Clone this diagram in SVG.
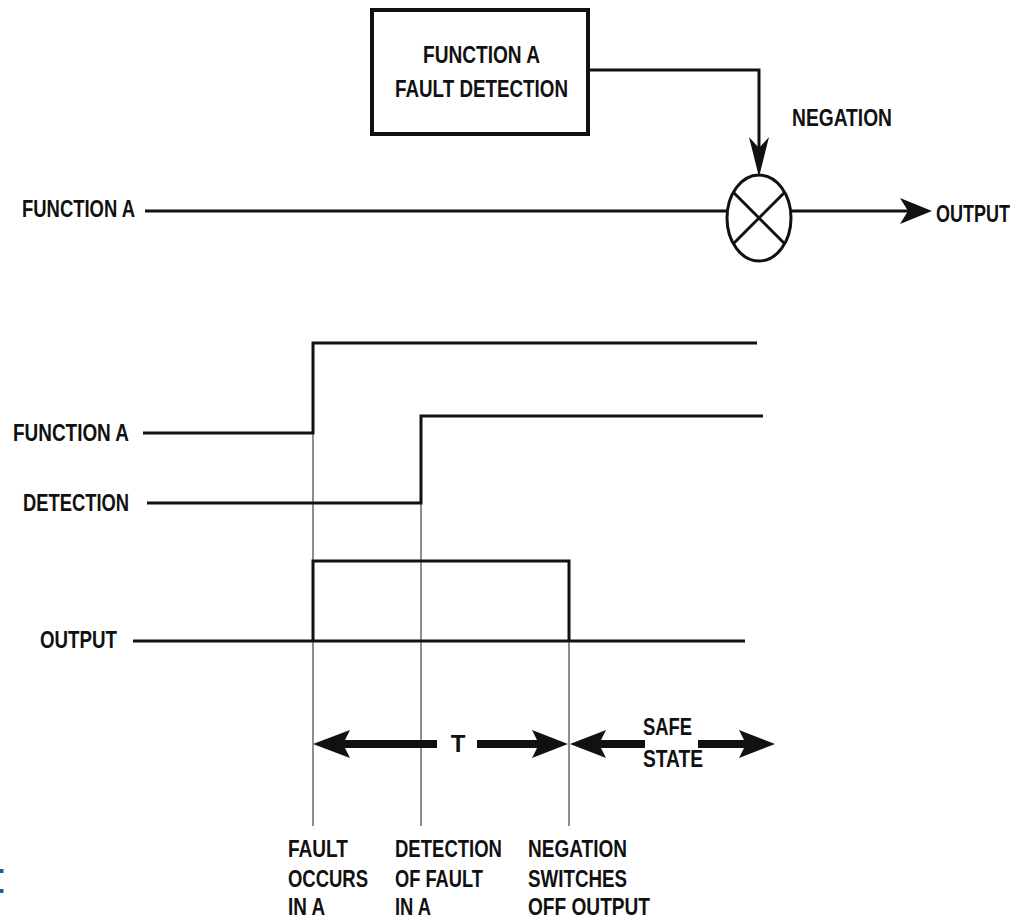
<svg xmlns="http://www.w3.org/2000/svg" width="1016" height="923" viewBox="0 0 1016 923">
<style>
  text { font-family: "Liberation Sans", Arial, sans-serif; font-weight: bold; font-size: 24px; fill: #111; }
  .ln { fill: none; stroke: #111; stroke-width: 3; stroke-linejoin: miter; }
  .thin { fill: none; stroke: #444; stroke-width: 1.2; }
  .head { fill: #111; stroke: none; }
</style>
<rect width="1016" height="923" fill="#fff"/>

<g id="fault-detection">
  <rect x="372" y="10" width="216" height="124" fill="#fff" stroke="#111" stroke-width="4"/>
  <text x="423" y="63" textLength="117" lengthAdjust="spacingAndGlyphs">FUNCTION A</text>
  <text x="395" y="97" textLength="173" lengthAdjust="spacingAndGlyphs">FAULT DETECTION</text>
</g>

<g id="negation-node">
  <ellipse cx="759" cy="218" rx="32" ry="43" fill="#fff" stroke="#111" stroke-width="3"/>
  <path class="ln" d="M733.3 192.3 L784.7 243.7 M784.7 192.3 L733.3 243.7"/>
</g>

<g id="labels-top">
  <text x="22" y="217" textLength="113" lengthAdjust="spacingAndGlyphs">FUNCTION A</text>
  <text x="792" y="126" textLength="100" lengthAdjust="spacingAndGlyphs">NEGATION</text>
  <text transform="translate(936,222) scale(0.75,1)" x="0" y="0">OUTPUT</text>
</g>

<g id="connectors">
  <path class="ln" d="M588 70 H759 V150"/>
  <polygon class="head" points="749,137 759,148 769,137 759,177"/>
  <path class="ln" d="M145 211 H727"/>
  <path class="ln" d="M791 211 H910"/>
  <polygon class="head" points="900,198 908,211 900,224 932,211"/>
</g>

<g id="timing-labels">
  <text x="13" y="441" textLength="116" lengthAdjust="spacingAndGlyphs">FUNCTION A</text>
  <text x="23" y="511" textLength="106" lengthAdjust="spacingAndGlyphs">DETECTION</text>
  <text x="40" y="648" textLength="77" lengthAdjust="spacingAndGlyphs">OUTPUT</text>
</g>

<g id="timing-markers">
  <path class="thin" d="M313 433 V826 M421 503 V826 M569 641 V826"/>
</g>

<g id="waveforms">
  <path class="ln" d="M143 433 H313 V343 H757"/>
  <path class="ln" d="M147 503 H421 V416 H763"/>
  <path class="ln" d="M133 641 H745"/>
  <path class="ln" d="M313 641 V561 H569 V641"/>
</g>

<g id="interval-arrows">
  <rect class="head" x="340" y="740" width="97" height="8"/>
  <polygon class="head" points="313,744 350,730 343,744 350,758"/>
  <text x="458" y="752" text-anchor="middle">T</text>
  <rect class="head" x="477" y="740" width="65" height="8"/>
  <polygon class="head" points="568,744 532,730 539,744 532,758"/>
  <rect class="head" x="597" y="740" width="48" height="8"/>
  <polygon class="head" points="570,744 606,730 599,744 606,758"/>
  <text x="643" y="735" textLength="49" lengthAdjust="spacingAndGlyphs">SAFE</text>
  <text x="643" y="767" textLength="60" lengthAdjust="spacingAndGlyphs">STATE</text>
  <rect class="head" x="698" y="740" width="48" height="8"/>
  <polygon class="head" points="775,744 739,730 746,744 739,758"/>
</g>

<g id="event-labels">
  <text x="288" y="857" textLength="60" lengthAdjust="spacingAndGlyphs">FAULT</text>
  <text x="288" y="887" textLength="80" lengthAdjust="spacingAndGlyphs">OCCURS</text>
  <text x="288" y="915" textLength="37" lengthAdjust="spacingAndGlyphs">IN A</text>
  <text x="395" y="857" textLength="107" lengthAdjust="spacingAndGlyphs">DETECTION</text>
  <text x="395" y="887" textLength="88" lengthAdjust="spacingAndGlyphs">OF FAULT</text>
  <text x="395" y="915" textLength="36" lengthAdjust="spacingAndGlyphs">IN A</text>
  <text x="528" y="857" textLength="99" lengthAdjust="spacingAndGlyphs">NEGATION</text>
  <text x="528" y="887" textLength="99" lengthAdjust="spacingAndGlyphs">SWITCHES</text>
  <text x="528" y="915" textLength="122" lengthAdjust="spacingAndGlyphs">OFF OUTPUT</text>
</g>

<g id="edge-marks">
  <rect x="0" y="869" width="3.5" height="4" fill="#1a5fa8"/>
  <rect x="0" y="889" width="3.5" height="4" fill="#1a5fa8"/>
</g>
</svg>
